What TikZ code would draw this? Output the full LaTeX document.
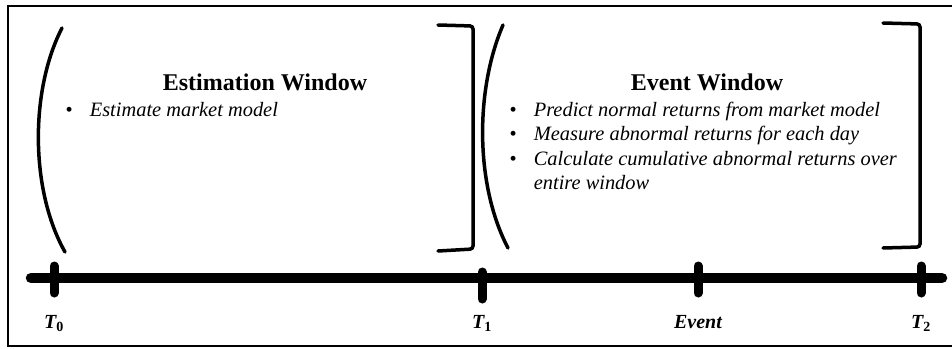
\documentclass[tikz,border=0pt]{standalone}
\usepackage{fontspec}
\setmainfont{Liberation Serif}
\newcommand{\itemdot}{\textup{\textbullet}}
\begin{document}
\begin{tikzpicture}[x=1pt,y=-1pt]
\tikzset{
  bracket/.style={line width=3.5pt,line cap=round,rounded corners=3pt},
  tick/.style={line width=9pt,line cap=round},
  heading/.style={font=\fontsize{24}{28}\selectfont\bfseries,anchor=base,inner sep=0pt},
  items/.style={font=\fontsize{20.4}{24.5}\selectfont\itshape,anchor=base west,inner sep=0pt},
  timelabel/.style={font=\fontsize{20}{22}\selectfont\bfseries\itshape,anchor=base,inner sep=0pt}
}
\useasboundingbox (0,0) rectangle (952,348);

% Frame (right side runs off the picture)
\draw[line width=2pt] (960,6) -- (8,6) -- (8,346) -- (960,346);

% Time axis
\coordinate (start) at (31,278);
\coordinate (end) at (942,278);
\draw[line width=10.5pt,line cap=round] (start) -- (end);

% Ticks and their labels
\foreach \name/\x/\ytop/\ybot/\lab in {t0/54/266/293/{\textit{T}\textsubscript{\textup{0}}},
    t1/482/272/299/{\textit{T}\textsubscript{\textup{1}}},
    ev/698/266/293/{Event},
    t2/921/266/293/{\textit{T}\textsubscript{\textup{2}}}} {
    \coordinate (\name) at (\x,278);
    \draw[tick] (\x,\ytop) -- (\x,\ybot);
    \node[timelabel] (\name label) at (\x,328) {\lab};
}

% Estimation window brackets
\draw[bracket] (62,28) .. controls (30,90) and (30,190) .. (65,252);
\draw[bracket] (438,25) -- (473,26) -- (473,249) -- (438,251);

% Event window brackets
\draw[bracket] (503,25) .. controls (475,90) and (475,185) .. (508,248);
\draw[bracket] (883,23) -- (920,24) -- (920,247) -- (883,248);

% Window titles
\node[heading] (esttitle) at (265,90) {Estimation Window};
\node[heading] (evtitle) at (707,90) {Event Window};

% Window tasks
\node[items] (estitems) at (65.5,116) {\begin{tabular}[t]{@{}l@{\hspace{17pt}}l@{}}
  \itemdot & Estimate market model
\end{tabular}};
\node[items] (evitems) at (509.5,116) {\begin{tabular}[t]{@{}l@{\hspace{17pt}}l@{}}
  \itemdot & Predict normal returns from market model\\
  \itemdot & Measure abnormal returns for each day\\
  \itemdot & Calculate cumulative abnormal returns over\\
  & entire window
\end{tabular}};
\end{tikzpicture}
\end{document}
